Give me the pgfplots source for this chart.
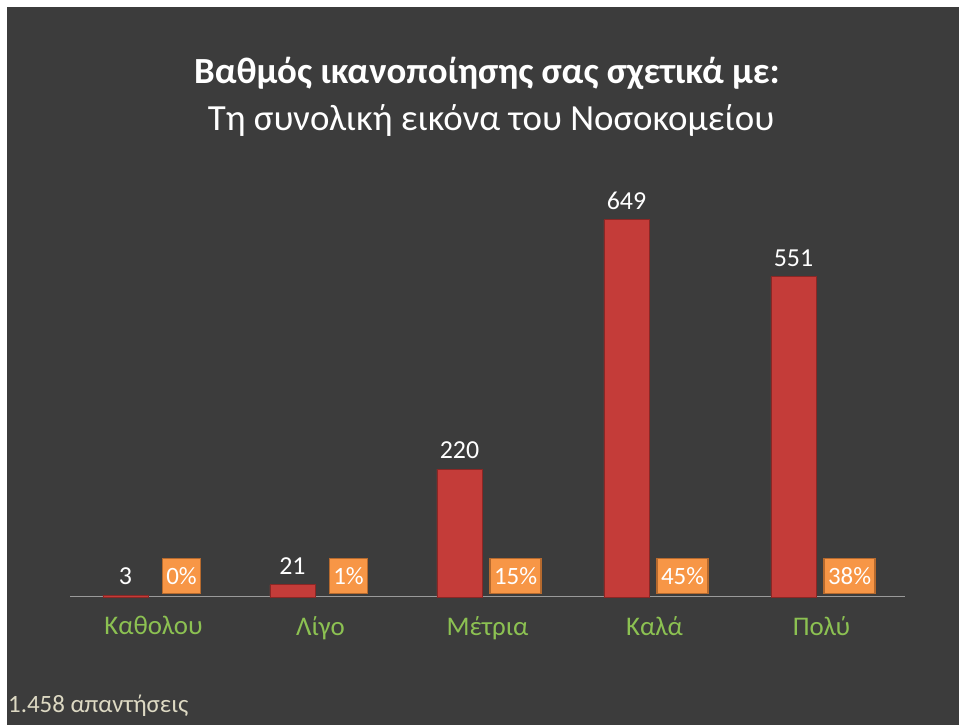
\documentclass[border=0pt]{standalone}
\usepackage{pgfplots}
\pgfplotsset{compat=1.18}
\usepackage{fontspec}
\setmainfont{Carlito}
\definecolor{bg}{HTML}{3C3C3C}
\definecolor{barred}{HTML}{C43C39}
\definecolor{bardark}{HTML}{8A2725}
\definecolor{boxorange}{HTML}{F79646}
\definecolor{boxedge}{HTML}{B66A2E}
\definecolor{catgreen}{HTML}{8CC152}
\definecolor{foot}{HTML}{DDD9C3}
\definecolor{axisgray}{HTML}{9A9A9A}
\begin{document}
\begin{tikzpicture}[x=1bp,y=1bp]
\fill[white] (0,0) rectangle (959,725);
\fill[bg] (7,0) rectangle (959,718);
\node[white, font=\fontsize{37}{44}\selectfont\bfseries, anchor=base, inner sep=0] at (487,641) {Βαθμός ικανοποίησης σας σχετικά με:};
\node[white, font=\fontsize{37}{44}\selectfont, anchor=base, inner sep=0] at (491,594) {Τη συνολική εικόνα του Νοσοκομείου};
\node[foot, font=\fontsize{25}{30}\selectfont, anchor=base west, inner sep=0] at (8,12) {1.458 απαντήσεις};
\begin{axis}[
  at={(70bp,128bp)}, anchor=south west,
  width=835bp, height=397bp, scale only axis,
  xmin=-0.5, xmax=4.5, ymin=0, ymax=683,
  axis x line=bottom, axis y line=none,
  x axis line style={draw=axisgray, line width=1bp, -},
  xtick={0,1,2,3,4}, xticklabels={Καθολου, Λίγο, Μέτρια, Καλά, Πολύ},
  major tick length=0pt,
  xticklabel style={text=catgreen, font=\fontsize{27}{32}\selectfont, yshift=-16bp},
  ytick=\empty,
  /pgf/number format/assume math mode=true,
  clip=false,
]
\addplot[ybar, bar width=45bp, bar shift=0pt, fill=barred, draw=bardark, line width=0.8bp,
  nodes near coords,
  nodes near coords style={text=white, font=\fontsize{26}{31}\selectfont, anchor=south, inner sep=0pt, yshift=10bp}]
  coordinates {(-0.168,3) (0.832,21) (1.832,220) (2.832,649) (3.832,551)};
\addplot[draw=none, mark=none, point meta=explicit symbolic,
  nodes near coords,
  nodes near coords style={fill=boxorange, draw=boxedge, line width=1.2bp, text=white,
    font=\fontsize{25}{30}\selectfont, anchor=south, inner xsep=4bp, minimum height=35bp, yshift=3bp}]
  coordinates {(0.168,0) [0\%] (1.168,0) [1\%] (2.168,0) [15\%] (3.168,0) [45\%] (4.168,0) [38\%]};
\end{axis}
\end{tikzpicture}
\end{document}
